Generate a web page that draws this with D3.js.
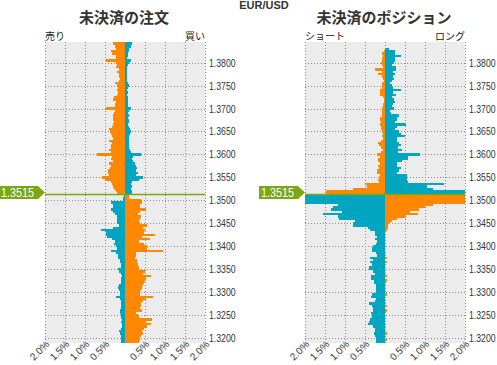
<!DOCTYPE html>
<html><head><meta charset="utf-8">
<script src="https://cdn.jsdelivr.net/npm/d3@7"></script>
<style>body{margin:0;background:#fff;} svg{display:block;}</style>
</head><body><svg id="c" width="497" height="365"></svg>
<script>
// ---------- data ----------
const pair = "EUR/USD";
const currentRateLabel = "1.3515";
const rateBoundary = 1.35125;          // boundary between rows drawn as the current-price line
const yTickValues = [1.3200,1.3250,1.3300,1.3350,1.3400,1.3450,1.3500,1.3550,1.3600,1.3650,1.3700,1.3750,1.3800];
const xTickValues = [-2,-1.5,-1,-0.5,0.5,1,1.5,2];
const yDomain = [1.3189, 1.3845];
const bucket = 0.0005;
// price levels (row centres): above the current price (top -> down) and below it (top -> down)
const levelsAbove = d3.range(67).map(i => +(1.3845 - i*bucket).toFixed(4));
const levelsBelow = d3.range(65).map(i => +(1.3510 - i*bucket).toFixed(4));

// 未決済の注文 (open orders, %)
const orderSellAbove = [0.29,0.29,0.25,0.23,0.35,0.33,0.23,0.22,0.48,0.22, 0.19,0.23,0.15,0.20,0.14,0.16,0.13,0.15,0.25,0.19, 0.17,0.19,0.18,0.20,0.27,0.30,0.22,0.24,0.26,0.48, 0.26,0.28,0.30,0.31,0.29,0.28,0.30,0.32,0.40,0.38, 0.35,0.33,0.31,0.39,0.33,0.35,0.36,0.40,0.34,0.70, 0.33,0.35,0.30,0.39,0.36,0.38,0.42,0.43,0.40,0.58, 0.50,0.36,0.33,0.30,0.27,0.22,0.20];
const orderBuyAbove  = [0.17,0.17,0.14,0.11,0.09,0.08,0.07,0.06,0.14,0.09, 0.08,0.06,0.06,0.05,0.04,0.05,0.04,0.06,0.08,0.09, 0.08,0.06,0.07,0.06,0.07,0.08,0.07,0.08,0.07,0.14, 0.10,0.08,0.10,0.08,0.11,0.10,0.08,0.09,0.12,0.14, 0.12,0.10,0.11,0.10,0.10,0.11,0.09,0.12,0.14,0.39, 0.19,0.18,0.21,0.25,0.28,0.30,0.28,0.32,0.27,0.45, 0.36,0.18,0.16,0.17,0.16,0.17,0.17];
const orderSellBelow = [0.03,0.04,0.04,0.35,0.31,0.31,0.35,0.31,0.25,0.21, 0.21,0.19,0.19,0.14,0.29,0.60,0.48,0.47,0.46,0.32, 0.25,0.27,0.22,0.20,0.35,0.23,0.17,0.18,0.12,0.13, 0.11,0.10,0.17,0.14,0.10,0.08,0.10,0.11,0.11,0.16, 0.17,0.14,0.13,0.13,0.23,0.12,0.11,0.10,0.09,0.11, 0.12,0.13,0.10,0.09,0.08,0.09,0.07,0.08,0.11,0.16, 0.12,0.09,0.10,0.11,0.09];
const orderBuyBelow  = [0.10,0.09,0.40,0.42,0.38,0.37,0.52,0.38,0.33,0.40, 0.37,0.36,0.38,0.54,0.46,0.51,0.48,0.75,0.42,0.63, 0.35,0.48,0.56,0.54,0.94,0.28,0.28,0.26,0.29,0.31, 0.33,0.34,0.35,0.50,0.46,0.66,0.52,0.50,0.48,0.46, 0.42,0.40,0.38,0.38,0.70,0.52,0.45,0.40,0.40,0.37, 0.42,0.27,0.33,0.36,0.68,0.52,0.65,0.56,0.48,0.42, 0.44,0.40,0.38,0.37,0.36];

// 未決済のポジション (open positions, %)
const posShortAbove = [0,0,0,0,0.02,0.07,0.05,0.07,0.08,0.11, 0.08,0.06,0.24,0.08,0.18,0.08,0.06,0.03,0.07,0.07, 0.07,0.12,0.12,0.12,0.04,0.02,0.02,0.06,0.05,0.07, 0.08,0.08,0.07,0.12,0.12,0.09,0.13,0.11,0.09,0.07, 0.05,0.07,0.06,0.09,0.18,0.16,0.11,0.06,0.09,0.19, 0.12,0.18,0.18,0.12,0.18,0.16,0.19,0.19,0.12,0.15, 0.18,0.16,0.50,0.46,0.79,1.48,1.48];
const posLongAbove  = [0,0,0,0.10,0.25,0.25,0.40,0.25,0.25,0.22, 0.17,0.27,0.28,0.21,0.24,0.19,0.22,0.18,0.12,0.18, 0.19,0.40,0.21,0.27,0.17,0.23,0.25,0.19,0.18,0.23, 0.13,0.15,0.35,0.31,0.29,0.25,0.53,0.31,0.26,0.35, 0.40,0.49,0.31,0.31,0.36,0.40,0.33,0.42,0.33,0.88, 0.58,0.58,0.43,0.29,0.30,0.39,0.34,0.31,0.56,0.54, 0.54,0.58,1.48,1.04,1.21,2.40,2.40];
const posShortBelow = [2.40,2.40,2.40,2.40,1.17,1.29,1.36,1.08,1.56,1.17, 1.15,0.75,0.79,0.79,0.43,0.38,0.24,0.24,0.21,0.25, 0.19,0.23,0.29,0.33,0.33,0.23,0.19,0.38,0.31,0.38, 0.33,0.40,0.40,0.31,0.26,0.35,0.35,0.28,0.28,0.23, 0.23,0.23,0.23,0.33,0.34,0.23,0.25,0.40,0.33,0.29, 0.29,0.35,0.33,0.33,0.38,0.41,0.42,0.31,0.25,0.25, 0.27,0.25,0.23,0.23,0.23];
const posLongBelow  = [2.40,2.40,2.40,2.40,1.19,1.00,0.85,0.63,0.82,0.52, 0.30,0.17,0.13,0.07,0.07,0.05,0,0,0,0, 0,0,0,0,0,0,0,0.04,0,0.04, 0,0,0,0,0,0.04,0,0.05,0,0, 0,0,0,0.04,0,0,0,0,0.04,0, 0.04,0,0,0,0,0,0,0,0,0, 0.04,0,0,0.04,0];

// ---------- drawing ----------
const ORANGE = "#ff8800", TEAL = "#00a5bf", GREEN = "#7aa812";
const FONT = "Liberation Sans, Arial, sans-serif";
const svg = d3.select("#c");
const plotTop = 42, plotBottom = 343, pw = 160;
const y = d3.scaleLinear().domain(yDomain).range([plotBottom, plotTop]);

svg.append("text").attr("x", 264).attr("y", 9).attr("text-anchor","middle")
  .attr("font-family", FONT).attr("font-weight","bold")
  .attr("font-size", 11).attr("fill","#333").text(pair);

const panels = [
  {id:"o", title:"未決済の注文", lLabel:"売り", rLabel:"買い", x0:45,
   above:[orderSellAbove, orderBuyAbove], below:[orderSellBelow, orderBuyBelow]},
  {id:"p", title:"未決済のポジション", lLabel:"ショート", rLabel:"ロング", x0:305,
   above:[posShortAbove, posLongAbove], below:[posShortBelow, posLongBelow]}
];

const halfRow = (y(0) - y(bucket)) / 2;

panels.forEach(p => {
  const x = d3.scaleLinear().domain([-2, 2]).range([p.x0, p.x0 + pw]);
  const g = svg.append("g");
  g.append("rect").attr("x", p.x0).attr("y", plotTop).attr("width", pw).attr("height", plotBottom - plotTop).attr("fill", "#ececec");

  // grid
  d3.range(-2, 2.01, 0.5).forEach(v => {
    g.append("line").attr("x1", Math.round(x(v)) + 0.5).attr("x2", Math.round(x(v)) + 0.5)
      .attr("y1", plotTop).attr("y2", plotBottom).attr("stroke", "#8c8c8c").attr("stroke-dasharray", "1,2");
  });
  yTickValues.forEach(v => {
    g.append("line").attr("x1", p.x0).attr("x2", p.x0 + pw)
      .attr("y1", Math.round(y(v)) + 0.5).attr("y2", Math.round(y(v)) + 0.5)
      .attr("stroke", "#8c8c8c").attr("stroke-dasharray", "1,2");
  });

  // bars
  g.append("clipPath").attr("id", "clip" + p.id).append("rect")
    .attr("x", p.x0).attr("y", plotTop).attr("width", pw).attr("height", plotBottom - plotTop);
  const bars = g.append("g").attr("clip-path", `url(#clip${p.id})`);
  const drawSide = (levels, vals, side, color) => {
    bars.selectAll(null).data(levels.map((l, i) => ({l, v: vals[i]})).filter(d => d.v > 0))
      .enter().append("rect")
      .attr("x", d => side < 0 ? x(-d.v) : x(0))
      .attr("width", d => Math.abs(x(d.v) - x(0)))
      .attr("y", d => y(d.l) - halfRow)
      .attr("height", halfRow * 2 + 0.05)
      .attr("fill", color)
      .attr("shape-rendering", "crispEdges");
  };
  drawSide(levelsAbove, p.above[0], -1, ORANGE);
  drawSide(levelsAbove, p.above[1], 1, TEAL);
  drawSide(levelsBelow, p.below[0], -1, TEAL);
  drawSide(levelsBelow, p.below[1], 1, ORANGE);

  // current price line
  const ly = y(rateBoundary);
  g.append("line").attr("x1", p.x0).attr("x2", p.x0 + pw).attr("y1", ly).attr("y2", ly)
    .attr("stroke", GREEN).attr("stroke-width", 1.5);
  // marker
  const tip = p.x0, cy = ly - 2;
  g.append("path").attr("d", `M${tip-46},${cy-6.5}L${tip-7},${cy-6.5}L${tip},${cy}L${tip-7},${cy+6.5}L${tip-46},${cy+6.5}Z`)
    .attr("fill", GREEN);
  g.append("text").attr("transform", `translate(${tip - 44},${cy + 4}) scale(0.9,1)`).attr("fill", "#fff")
    .attr("font-family", FONT).attr("font-size", 12).text(currentRateLabel);

  // titles
  g.append("text").attr("x", p.x0 + pw / 2 - 1).attr("y", 23).attr("text-anchor", "middle")
    .attr("font-family", "Noto Sans CJK JP").attr("font-weight", "bold").attr("font-size", 15)
    .attr("fill", "#333").text(p.title);
  g.append("text").attr("x", p.x0).attr("y", 40).attr("font-family", "Noto Sans CJK JP")
    .attr("font-size", 10).attr("fill", "#222").text(p.lLabel);
  g.append("text").attr("x", p.x0 + pw).attr("y", 40).attr("text-anchor", "end").attr("font-family", "Noto Sans CJK JP")
    .attr("font-size", 10).attr("fill", "#222").text(p.rLabel);

  // y labels
  yTickValues.forEach(v => {
    g.append("text").attr("transform", `translate(${p.x0 + pw + 4},${y(v) + 4}) scale(0.79,1)`)
      .attr("font-family", FONT).attr("font-size", 11).attr("fill", "#333")
      .text(v.toFixed(4));
  });
  // x labels
  xTickValues.forEach(v => {
    g.append("text").attr("transform", `translate(${x(v) + 5},${plotBottom + 2}) rotate(-45)`)
      .attr("text-anchor", "end")
      .attr("font-family", FONT).attr("font-size", 10).attr("fill", "#333")
      .text(Math.abs(v).toFixed(1) + "%");
  });
});
</script></body></html>
